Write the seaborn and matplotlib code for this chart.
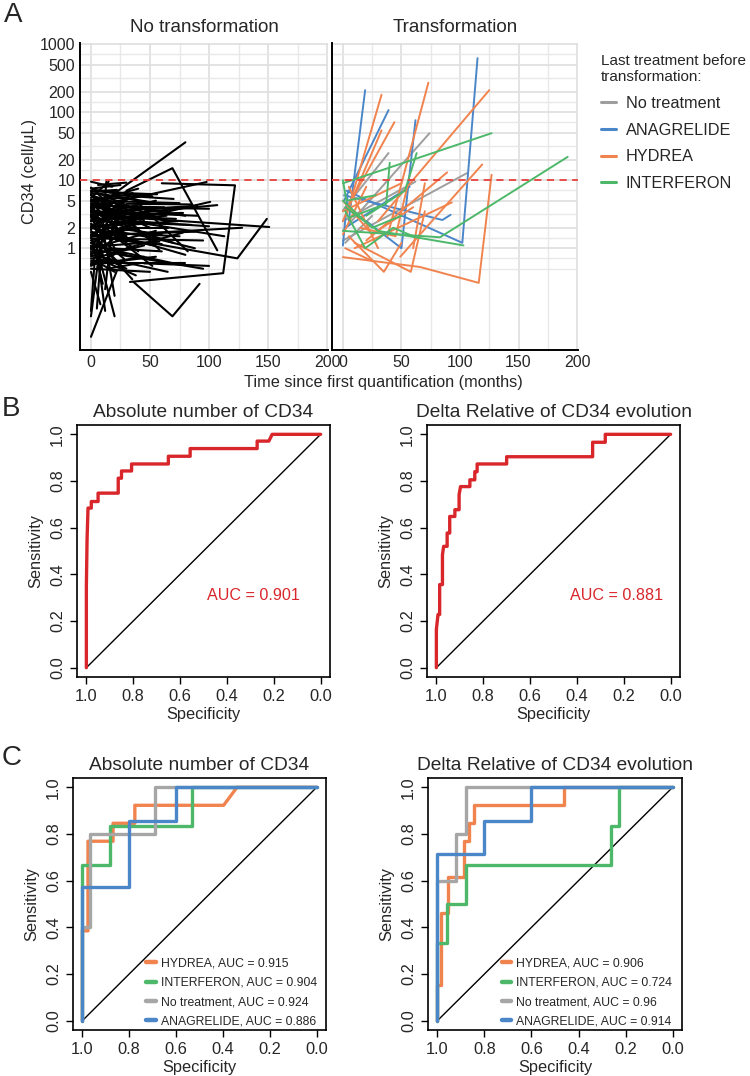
import pandas as pd
import seaborn as sns
import matplotlib.pyplot as plt

W, H = 750, 1076

# ---------------- Panel A: CD34 follow-up, (months, cell/uL) per patient ----------------
no_tf_paths = [
    [(0, 3.6), (80, 36)], [(30, 7), (69, 15), (107, 0.93)], [(0, 4), (98, 9.4)],
    [(5, 2), (101, 4.8)], [(10, 3), (107, 4.3)], [(0, 1.5), (128, 2.0)],
    [(10, 3), (151, 2.05)], [(50, 1.2), (124, 0.71), (149, 2.7)],
    [(60, 9), (122, 8.4), (112, 0.43), (33, 0.32)], [(36, 0.32), (69, 0.1), (92, 0.30)],
    [(0, 0.05), (22, 0.47)], [(0, 0.1), (8, 1.2)], [(5, 1.0), (20, 0.1)],
    [(10, 2.0), (20, 0.2)], [(0, 0.12), (3, 0.6)], [(12, 0.25), (18, 2.0)],
    [(5, 0.13), (13, 9.5)], [(0, 9.5), (18, 8.0)], [(15, 2.8), (113, 1.5)],
    [(0, 7.5), (25, 8.5)], [(0, 7), (40, 6)], [(0, 6.5), (60, 4.5)], [(0, 6), (35, 3)],
    [(0, 5.5), (15, 9.5)], [(0, 5), (75, 4.6)], [(0, 5), (50, 2)], [(0, 4.5), (20, 1)],
    [(0, 4.5), (65, 3.5)], [(0, 4), (45, 6)], [(0, 4), (30, 1.5)], [(0, 3.5), (90, 3)],
    [(0, 3.5), (12, 0.6)], [(0, 3), (55, 5)], [(0, 3), (25, 2.2)], [(0, 3), (70, 1.2)],
    [(0, 2.8), (40, 0.9)], [(0, 2.5), (85, 2.2)], [(0, 2.5), (18, 4.5)],
    [(0, 2.2), (60, 1.6)], [(0, 2), (35, 6.5)], [(0, 2), (80, 0.8)], [(0, 1.8), (28, 0.7)],
    [(0, 1.6), (50, 3.2)], [(0, 1.5), (10, 0.3)], [(0, 1.4), (95, 1.3)],
    [(0, 1.2), (42, 2.5)], [(0, 1.1), (70, 0.6)], [(0, 1), (20, 3.5)], [(0, 1), (55, 1.8)],
    [(0, 0.9), (30, 0.5)], [(0, 0.8), (65, 0.45)], [(0, 0.8), (15, 2.6)],
    [(0, 0.7), (45, 1.1)], [(0, 0.6), (80, 0.6)], [(0, 0.55), (25, 0.9)],
    [(0, 0.5), (50, 0.45)], [(0, 0.45), (8, 0.15)], [(2, 6), (22, 2)], [(3, 5), (40, 7.5)],
    [(5, 2.5), (48, 4)], [(5, 1.3), (35, 0.35)], [(5, 0.9), (12, 0.12)], [(8, 4), (58, 2.8)],
    [(8, 3), (30, 5)], [(10, 6), (65, 2.4)], [(10, 1.7), (75, 1.5)], [(10, 0.6), (45, 0.75)],
    [(12, 3.5), (90, 4.2)], [(12, 2.2), (38, 1.2)], [(15, 5), (30, 3.8)], [(15, 1), (60, 0.9)],
    [(18, 2.8), (50, 1.4)], [(20, 4), (100, 3.8)], [(20, 1.5), (52, 0.55)], [(22, 6), (70, 5.3)],
    [(25, 2), (65, 2)], [(25, 0.8), (95, 0.5)], [(28, 3), (58, 0.95)], [(30, 4.5), (85, 4.4)],
    [(30, 1), (78, 1.7)], [(35, 2.5), (100, 2.1)], [(38, 5), (82, 0.9)], [(40, 1.6), (88, 1.0)],
    [(42, 3.5), (62, 2.6)], [(45, 0.6), (100, 0.55)], [(0, 6), (28, 4.2)], [(2, 3.2), (45, 2.6)],
    [(4, 1.9), (32, 1.3)], [(6, 0.7), (38, 0.4)], [(3, 7.2), (52, 5.8)], [(1, 2.6), (64, 3.0)],
    [(7, 1.2), (26, 0.55)], [(9, 4.8), (36, 2.1)], [(14, 0.5), (40, 0.6)], [(2, 0.95), (48, 0.7)],
    [(0, 7.8), (12, 5)], [(0, 6.8), (22, 7.2)], [(0, 6.2), (10, 3.8)], [(0, 5.2), (32, 5.5)],
    [(0, 4.8), (16, 2.4)], [(0, 4.2), (26, 3.2)], [(0, 3.8), (8, 1.8)], [(0, 3.3), (36, 3.6)],
    [(0, 2.9), (14, 5.2)], [(0, 2.6), (30, 2.9)], [(0, 2.3), (22, 1.3)], [(0, 2.1), (48, 2.4)],
    [(0, 1.9), (12, 2.8)], [(0, 1.7), (40, 1.9)], [(0, 1.3), (18, 1.6)], [(0, 1.2), (30, 0.8)],
    [(0, 1.05), (58, 1.25)], [(0, 0.95), (22, 1.9)], [(0, 0.85), (36, 1.0)], [(0, 0.75), (12, 0.9)],
    [(0, 0.65), (28, 0.65)], [(3, 4.2), (62, 4.0)], [(5, 3.4), (44, 3.0)], [(6, 2.4), (26, 4.0)],
    [(8, 1.5), (54, 1.1)], [(4, 6.5), (46, 4.8)], [(10, 5.2), (24, 6.0)], [(12, 1.1), (34, 2.2)],
    [(14, 3.0), (72, 2.7)], [(16, 6.6), (56, 6.2)], [(18, 1.8), (66, 1.3)], [(20, 2.6), (44, 1.7)],
    [(0, 0.58), (55, 0.75)], [(2, 0.68), (20, 0.45)], [(6, 8.5), (30, 9.2)], [(0, 3.1), (78, 3.3)],
    [(0, 1.55), (88, 1.75)], [(24, 4.2), (80, 3.0)], [(26, 1.3), (60, 1.15)], [(32, 2.2), (74, 2.5)],
]
tf_none = [
    [(0, 1.8), (74, 49)], [(0, 3.6), (39, 25)], [(0, 1.3), (106, 12.7)],
    [(0, 2.5), (62, 9.5)], [(2, 1.2), (25, 3)],
]
tf_anagrelide = [
    [(5, 2.5), (19, 210)], [(1, 5), (39, 107)], [(20, 2.5), (50, 1.0), (62, 76)],
    [(3, 7), (102, 1.2), (115, 620)], [(1, 6), (85, 2.6), (92, 3.1)],
    [(2, 2), (57, 8)], [(0, 1.1), (4, 6)],
]
tf_hydrea = [
    [(38, 1.5), (73, 270)], [(3, 3), (33, 180)], [(4, 4), (44, 71)], [(0, 2.5), (33, 54)],
    [(30, 2.5), (125, 210)], [(49, 0.75), (119, 17)],
    [(0, 0.74), (66, 0.53), (116, 0.31), (127, 12)], [(5, 1.5), (35, 0.45), (50, 1.2)],
    [(0, 5), (25, 1.6), (60, 4)], [(5, 8), (15, 3.5), (30, 1)], [(10, 1.2), (58, 0.45), (70, 3.5)],
    [(20, 1.3), (89, 13)], [(10, 1.0), (93, 4.7)], [(0, 3.5), (50, 9)], [(0, 1.6), (20, 8)],
    [(60, 1.0), (70, 9)], [(15, 2), (45, 1.5), (55, 8)], [(2, 1.0), (25, 0.65)],
]
tf_interferon = [
    [(0, 1.8), (83, 1.45), (192, 22)], [(0, 9), (127, 49)], [(5, 2.8), (37, 4.5), (40, 18)],
    [(20, 3), (53, 7), (63, 25)], [(2, 4), (30, 1.8), (103, 1.1)], [(0, 5), (25, 2), (50, 3)],
    [(2, 3.5), (19, 1.0), (43, 2.0), (60, 1.5)], [(0, 10), (3, 5), (28, 6)],
]
treatments = ["No treatment", "ANAGRELIDE", "HYDREA", "INTERFERON"]
treat_colors = ["#9E9E9E", "#4A86C8", "#F0834E", "#4DB86A"]
y_breaks = [1, 2, 5, 10, 20, 50, 100, 200, 500, 1000]
y_minor = [0.5, 0.707, 1.414, 3.16, 7.07, 14.1, 31.6, 70.7, 141, 316, 707]
x_breaks = [0, 50, 100, 150, 200]

# ---------------- Panel B: ROC (specificity, sensitivity) ----------------
roc_abs = [(1, 0), (1, 0.35), (0.997, 0.55), (0.993, 0.684), (0.979, 0.684), (0.979, 0.712),
           (0.95, 0.712), (0.95, 0.748), (0.864, 0.748), (0.864, 0.812), (0.85, 0.812),
           (0.85, 0.843), (0.807, 0.843), (0.807, 0.873), (0.65, 0.873), (0.65, 0.906),
           (0.557, 0.906), (0.557, 0.939), (0.271, 0.939), (0.271, 0.971), (0.221, 0.971),
           (0.207, 1.0), (0, 1.0)]
roc_delta = [(1, 0), (1, 0.164), (0.993, 0.228), (0.986, 0.228), (0.986, 0.356), (0.974, 0.356),
             (0.974, 0.484), (0.969, 0.52), (0.954, 0.52), (0.954, 0.577), (0.943, 0.577),
             (0.943, 0.648), (0.921, 0.648), (0.921, 0.677), (0.903, 0.677), (0.903, 0.741),
             (0.897, 0.776), (0.857, 0.776), (0.857, 0.805), (0.836, 0.805), (0.836, 0.84),
             (0.826, 0.84), (0.826, 0.873), (0.70, 0.873), (0.70, 0.904), (0.333, 0.904),
             (0.333, 0.966), (0.279, 0.966), (0.279, 1.0), (0, 1.0)]
auc_abs, auc_delta = "AUC = 0.901", "AUC = 0.881"

# ---------------- Panel C: ROC by last treatment ----------------
c_order = ["HYDREA", "INTERFERON", "No treatment", "ANAGRELIDE"]
c_colors = ["#F0834E", "#4DB86A", "#A6A6A6", "#4A86C8"]
c_abs_hydrea = [(1, 0), (1, 0.385), (0.976, 0.385), (0.976, 0.769), (0.869, 0.769), (0.869, 0.846),
                (0.776, 0.846), (0.776, 0.923), (0.397, 0.923), (0.34, 1.0), (0, 1)]
c_abs_interferon = [(1, 0), (1, 0.667), (0.883, 0.667), (0.883, 0.833), (0.533, 0.833), (0.533, 1), (0, 1)]
c_abs_none = [(1, 0), (1, 0.4), (0.969, 0.4), (0.969, 0.8), (0.69, 0.8), (0.69, 1.0), (0, 1)]
c_abs_anagrelide = [(1, 0), (1, 0.571), (0.8, 0.571), (0.8, 0.857), (0.6, 0.857), (0.6, 1), (0, 1)]
c_abs_auc = ["0.915", "0.904", "0.924", "0.886"]
c_delta_hydrea = [(1, 0), (1, 0.154), (0.986, 0.154), (0.986, 0.462), (0.957, 0.462), (0.957, 0.615),
                  (0.886, 0.615), (0.886, 0.769), (0.866, 0.769), (0.866, 0.846), (0.843, 0.846),
                  (0.843, 0.923), (0.461, 0.923), (0.461, 1), (0, 1)]
c_delta_interferon = [(1, 0), (1, 0.333), (0.959, 0.333), (0.959, 0.5), (0.88, 0.5), (0.88, 0.667),
                      (0.264, 0.667), (0.264, 0.833), (0.226, 0.833), (0.226, 1), (0, 1)]
c_delta_none = [(1, 0), (1, 0.6), (0.919, 0.6), (0.919, 0.8), (0.879, 0.8), (0.879, 1.0), (0, 1)]
c_delta_anagrelide = [(1, 0), (1, 0.714), (0.8, 0.714), (0.8, 0.857), (0.6, 0.857), (0.6, 1), (0, 1)]
c_delta_auc = ["0.906", "0.724", "0.96", "0.914"]
roc_ticks = [1.0, 0.8, 0.6, 0.4, 0.2, 0.0]

sns.set_style("white")
plt.rcParams["font.family"] = ["Liberation Sans", "DejaVu Sans"]
plt.rcParams["axes.unicode_minus"] = False


def paths_df(paths, label):
    rows = []
    for i, p in enumerate(paths):
        for t, v in p:
            rows.append((f"{label}_{i}", t, v, label))
    return pd.DataFrame(rows, columns=["patient", "time", "cd34", "treatment"])


def roc_df(curves, names):
    rows = []
    for pts, name in zip(curves, names):
        for s, se in pts:
            rows.append((name, s, se))
    return pd.DataFrame(rows, columns=["curve", "spec", "sens"])


def px_axes(fig, x0, y0, x1, y1):
    return fig.add_axes([x0 / W, 1 - y1 / H, (x1 - x0) / W, (y1 - y0) / H])


fig = plt.figure(figsize=(W / 100, H / 100), dpi=100)

# ---- A ----
axA1 = px_axes(fig, 80, 43, 328, 350)
axA2 = px_axes(fig, 332, 43, 578, 350)
df_no = paths_df(no_tf_paths, "none")
df_tf = pd.concat([paths_df(tf_none, "No treatment"), paths_df(tf_anagrelide, "ANAGRELIDE"),
                   paths_df(tf_hydrea, "HYDREA"), paths_df(tf_interferon, "INTERFERON")])

sns.lineplot(data=df_no, x="time", y="cd34", units="patient", estimator=None, sort=False,
             color="black", lw=1.5, ax=axA1)
sns.lineplot(data=df_tf, x="time", y="cd34", hue="treatment", hue_order=treatments,
             palette=treat_colors, units="patient", estimator=None, sort=False, lw=1.4, ax=axA2)
leg_h, leg_l = axA2.get_legend_handles_labels()
axA2.get_legend().remove()

for ax, title in [(axA1, "No transformation"), (axA2, "Transformation")]:
    ax.set_yscale("log")
    ax.set_ylim(0.032, 1035)
    ax.set_xlim(-9.3, 200.8)
    ax.set_yticks(y_breaks)
    ax.set_yticks(y_minor, minor=True)
    ax.set_xticks(x_breaks)
    ax.set_xticks([25, 75, 125, 175], minor=True)
    ax.yaxis.set_minor_formatter(plt.NullFormatter())
    ax.grid(True, which="major", color="#E0E0E0", lw=1.3, zorder=0)
    ax.grid(True, which="minor", color="#E8E8E8", lw=1.0, zorder=0)
    ax.set_axisbelow(True)
    ax.axhline(10, color="#E8413C", lw=1.3, ls=(0, (4, 3)), zorder=5)
    ax.set_title(title, fontsize=13.5, pad=8)
    ax.set_xlabel("")
    ax.set_ylabel("")
    ax.tick_params(which="both", length=0, labelsize=11.5, pad=3.5)
    for side in ["top", "right"]:
        ax.spines[side].set_visible(False)
    for side in ["left", "bottom"]:
        ax.spines[side].set_color("black")
        ax.spines[side].set_linewidth(1.4)
axA1.set_yticklabels([str(b) for b in y_breaks])
axA2.set_yticklabels([])
axA1.set_ylabel("CD34 (cell/μL)", fontsize=11.7)
axA1.yaxis.set_label_coords(-0.173, 0.58)
fig.text(383 / W, 1 - 382 / H, "Time since first quantification (months)", fontsize=11.7,
         ha="center", va="center")
for h in leg_h:
    h.set_linewidth(2.2)
fig.legend(leg_h, leg_l, title="Last treatment before\ntransformation:", loc="upper left",
           bbox_to_anchor=(593 / W, 1 - 46 / H), frameon=False, fontsize=11.7,
           title_fontsize=11.0, handlelength=0.9, handletextpad=0.6, labelspacing=0.72,
           alignment="left", borderpad=0)


# ---- B & C ----
def roc_axes(ax, title):
    ax.plot([1, 0], [0, 1], color="black", lw=1.0, zorder=1)
    ax.set_xlim(1.04, -0.04)
    ax.set_ylim(-0.04, 1.04)
    ax.set_xticks(roc_ticks)
    ax.set_xticklabels([f"{t:.1f}" for t in roc_ticks])
    ax.set_yticks(roc_ticks)
    ax.set_yticklabels([f"{t:.1f}" for t in roc_ticks], rotation=90, va="center")
    ax.tick_params(length=5, width=1, labelsize=11.8, pad=3.5, direction="out",
                   bottom=True, left=True, color="black")
    for s in ax.spines.values():
        s.set_visible(True)
        s.set_color("black")
        s.set_linewidth(1.2)
    ax.set_title(title, fontsize=13.8, pad=6)
    ax.set_xlabel("Specificity", fontsize=11.8)
    ax.set_ylabel("Sensitivity", fontsize=11.8)
    ax.xaxis.set_label_coords(0.5, -0.119)
    ax.yaxis.set_label_coords(-0.132, 0.5)


axB1 = px_axes(fig, 77, 425, 330, 677)
axB2 = px_axes(fig, 427, 425, 680, 677)
for ax, pts, auc, title, tx in [(axB1, roc_abs, auc_abs, "Absolute number of CD34", 0.288),
                                (axB2, roc_delta, auc_delta, "Delta Relative of CD34 evolution", 0.232)]:
    d = roc_df([pts], ["roc"])
    sns.lineplot(data=d, x="spec", y="sens", estimator=None, sort=False, color="#D9262B",
                 lw=2.4, ax=ax, zorder=3)
    roc_axes(ax, title)
    ax.text(tx, 0.308, auc, color="#D9262B", fontsize=11.6, ha="center", va="center")

axC1 = px_axes(fig, 73, 778, 326, 1030)
axC2 = px_axes(fig, 428, 778, 682, 1030)
for ax, curves, aucs, title in [
        (axC1, [c_abs_hydrea, c_abs_interferon, c_abs_none, c_abs_anagrelide], c_abs_auc,
         "Absolute number of CD34"),
        (axC2, [c_delta_hydrea, c_delta_interferon, c_delta_none, c_delta_anagrelide], c_delta_auc,
         "Delta Relative of CD34 evolution")]:
    d = roc_df(curves, c_order)
    sns.lineplot(data=d, x="spec", y="sens", hue="curve", hue_order=c_order, palette=c_colors,
                 estimator=None, sort=False, lw=2.4, ax=ax, zorder=3)
    roc_axes(ax, title)
    hs, _ = ax.get_legend_handles_labels()
    for h in hs:
        h.set_linewidth(3.2)
    ax.legend(hs, [f"{n}, AUC = {a}" for n, a in zip(c_order, aucs)], loc="lower left",
              bbox_to_anchor=(0.29, 0.01), frameon=False, fontsize=8.8, handlelength=0.8,
              handletextpad=0.4, labelspacing=0.6, borderpad=0, borderaxespad=0)

fig.text(4 / W, 1 - 2 / H, "A", fontsize=20, ha="left", va="top")
fig.text(2 / W, 1 - 396 / H, "B", fontsize=20, ha="left", va="top")
fig.text(2 / W, 1 - 745 / H, "C", fontsize=20, ha="left", va="top")

fig.savefig("out.png", dpi=100)
